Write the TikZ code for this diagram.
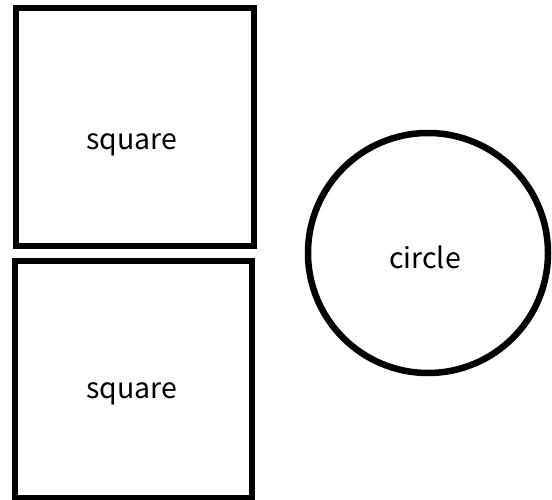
\documentclass[tikz,border=0pt]{standalone}
\usepackage{fontspec}
\setmainfont{Noto Sans CJK SC}
\begin{document}
\begin{tikzpicture}[x=1pt,y=-1pt,
  shapeline/.style={draw=black,line width=6pt},
  lbl/.style={font=\fontsize{28.5}{34}\selectfont,anchor=base,inner sep=0pt}]
\useasboundingbox (0,0) rectangle (552,500);
\draw[shapeline] (16,8) rectangle (254,246);
\draw[shapeline] (15,261) rectangle (252,498);
\node[shapeline,circle,minimum size=240pt,inner sep=0pt,line width=6.5pt] (c) at (428,253) {};
\node[lbl] (s1) at (131.5,150) {square};
\node[lbl] (s2) at (131.5,398) {square};
\node[lbl] (ct) at (425,268) {circle};
\end{tikzpicture}
\end{document}
